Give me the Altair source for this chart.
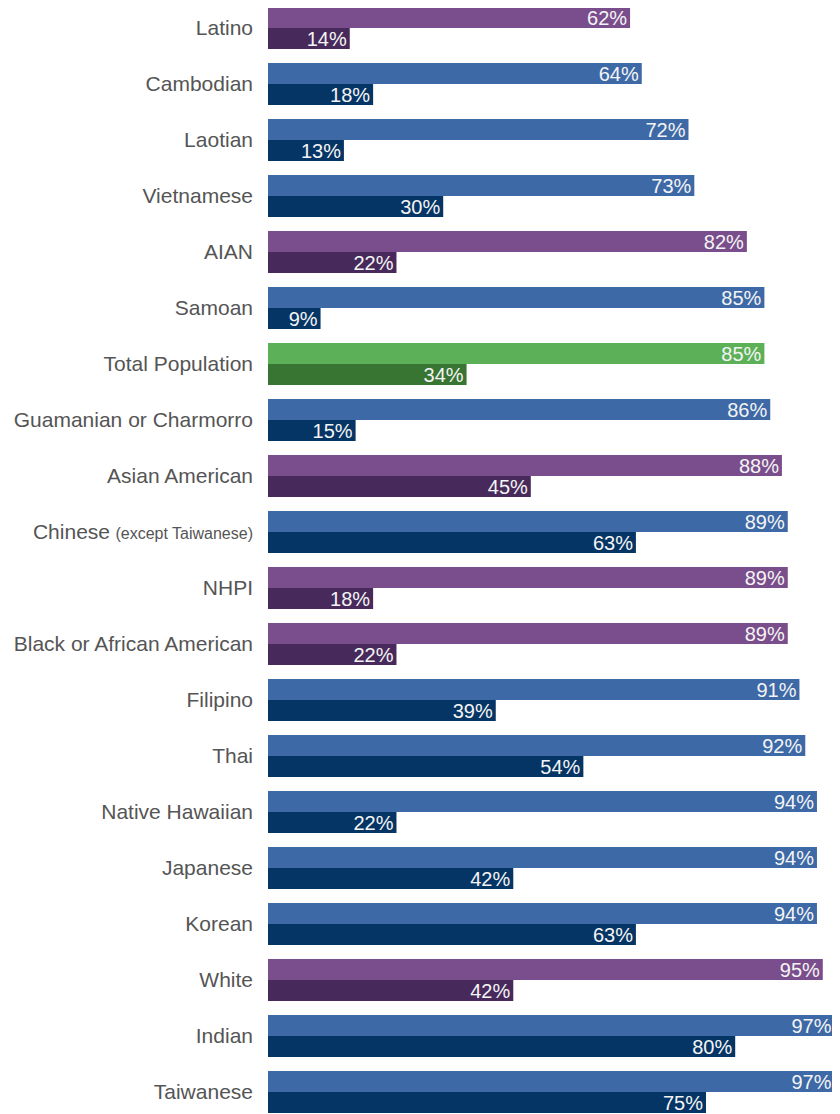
import altair as alt
import pandas as pd

categories = [
    "Latino", "Cambodian", "Laotian", "Vietnamese", "AIAN", "Samoan",
    "Total Population", "Guamanian or Charmorro", "Asian American",
    "Chinese (except Taiwanese)", "NHPI", "Black or African American",
    "Filipino", "Thai", "Native Hawaiian", "Japanese", "Korean", "White",
    "Indian", "Taiwanese",
]
groups = [
    "race", "sub", "sub", "sub", "race", "sub",
    "total", "sub", "race",
    "sub", "race", "race",
    "sub", "sub", "sub", "sub", "sub", "race",
    "sub", "sub",
]
top_values = [62, 64, 72, 73, 82, 85, 85, 86, 88, 89, 89, 89, 91, 92, 94, 94, 94, 95, 97, 97]
bottom_values = [14, 18, 13, 30, 22, 9, 34, 15, 45, 63, 18, 22, 39, 54, 22, 42, 63, 42, 80, 75]

color_keys = ["race|A", "race|B", "sub|A", "sub|B", "total|A", "total|B"]
color_vals = ["#7a4e8c", "#472a5b", "#3d69a7", "#053564", "#5cb158", "#387432"]

rows = []
for c, g, t, b in zip(categories, groups, top_values, bottom_values):
    rows.append(dict(cat=c, series="A", value=t, key=f"{g}|A", label=f"{t}%"))
    rows.append(dict(cat=c, series="B", value=b, key=f"{g}|B", label=f"{b}%"))
df = pd.DataFrame(rows)

main_names = ["Chinese" if c.startswith("Chinese") else c for c in categories]
lab_df = pd.DataFrame({"cat": categories, "main": main_names})

FONT = "Liberation Sans"

y = alt.Y("cat:N", sort=categories, axis=None,
          scale=alt.Scale(paddingInner=0.25, paddingOuter=0.0, range=[-1, 1105]))
yoff = alt.YOffset("series:N", sort=["A", "B"], scale=alt.Scale(paddingInner=0, paddingOuter=0))
x = alt.X("value:Q", axis=None,
          scale=alt.Scale(domain=[0, 100], nice=False, zero=True, range=[0, 584]))

bars = alt.Chart(df).mark_bar().encode(
    x=x, y=y, yOffset=yoff,
    color=alt.Color("key:N", scale=alt.Scale(domain=color_keys, range=color_vals), legend=None),
)

vals = alt.Chart(df).mark_text(
    align="right", baseline="middle", dx=-3, dy=1, font=FONT, fontSize=20, color="#f4f4f4"
).encode(x=x, y=y, yOffset=yoff, text="label:N")

labels = alt.Chart(lab_df).transform_filter(
    "datum.main != 'Chinese'"
).mark_text(
    align="right", baseline="middle", dx=-15, dy=1, font=FONT, fontSize=21, color="#555555"
).encode(x=alt.value(0), y=y, text="main:N")

chinese_main = alt.Chart(lab_df).transform_filter(
    "datum.main == 'Chinese'"
).mark_text(
    align="right", baseline="middle", dx=-158, dy=1, font=FONT, fontSize=21, color="#555555"
).encode(x=alt.value(0), y=y, text="main:N")

chinese_sub = alt.Chart(lab_df).transform_filter(
    "datum.main == 'Chinese'"
).transform_calculate(
    sub="'(except Taiwanese)'"
).mark_text(
    align="right", baseline="middle", dx=-15, dy=2, font=FONT, fontSize=16, color="#555555"
).encode(x=alt.value(0), y=y, text="sub:N")

chart = alt.layer(bars, vals, labels, chinese_main, chinese_sub).properties(
    width=564, height=1106,
    autosize=alt.AutoSizeParams(type="none"),
    padding={"left": 260, "top": 0, "right": 0, "bottom": 0},
).configure_view(stroke=None)

chart.save("out.html", embed_options={"renderer": "svg", "actions": False})
